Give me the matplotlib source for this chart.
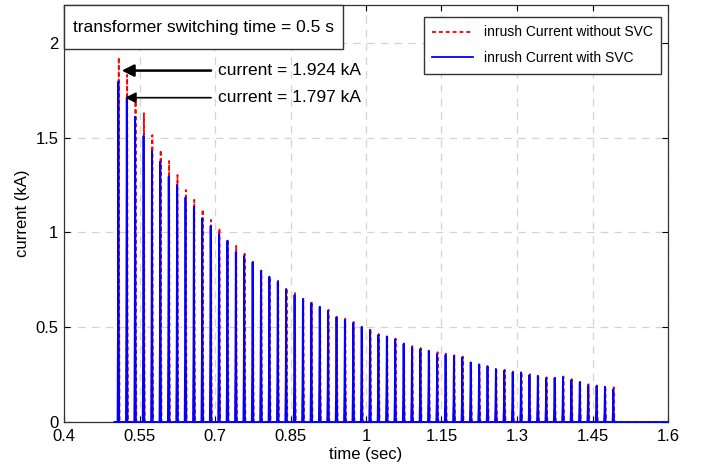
import numpy as np
import matplotlib.pyplot as plt
from matplotlib.patches import Rectangle

plt.rcParams['font.family'] = ['Liberation Sans', 'DejaVu Sans']

# peak current of each inrush cycle (kA), one pulse per 60 Hz cycle after switching
peaks_no_svc = [1.924, 1.831, 1.711, 1.629, 1.514, 1.435, 1.377, 1.303, 1.224, 1.172,
                1.122, 1.066, 1.022, 0.964, 0.929, 0.887, 0.845, 0.799, 0.767, 0.749,
                0.707, 0.680, 0.655, 0.635, 0.610, 0.592, 0.559, 0.545, 0.528, 0.502,
                0.490, 0.464, 0.456, 0.440, 0.415, 0.401, 0.390, 0.380, 0.368, 0.360,
                0.352, 0.345, 0.320, 0.307, 0.298, 0.285, 0.275, 0.266, 0.264, 0.252,
                0.247, 0.236, 0.234, 0.240, 0.226, 0.212, 0.199, 0.193, 0.189, 0.183]
peaks_svc = [1.797, 1.708, 1.611, 1.509, 1.430, 1.374, 1.295, 1.251, 1.184, 1.136,
             1.075, 1.034, 0.992, 0.957, 0.896, 0.876, 0.843, 0.797, 0.767, 0.740,
             0.702, 0.670, 0.649, 0.628, 0.608, 0.586, 0.554, 0.538, 0.523, 0.501,
             0.486, 0.460, 0.452, 0.436, 0.412, 0.394, 0.385, 0.376, 0.358, 0.354,
             0.348, 0.341, 0.315, 0.304, 0.295, 0.280, 0.271, 0.262, 0.262, 0.248,
             0.244, 0.232, 0.232, 0.237, 0.222, 0.209, 0.195, 0.190, 0.186, 0.172]

t_first = 0.508      # time of first peak (s)
period = 1 / 60.0    # supply period (s)
t_end = 1.6

# normalised shape of a single inrush pulse around its peak (offsets in seconds)
pulse_dt = [-0.0016, -0.0008, -0.0003, 0.0, 0.0003, 0.0008, 0.0016]
pulse_shape = [0.0, 0.3, 0.8, 1.0, 0.8, 0.3, 0.0]

xticks = [0.4, 0.55, 0.7, 0.85, 1.0, 1.15, 1.3, 1.45, 1.6]
xticklabels = ['0.4', '0.55', '0.7', '0.85', '1', '1.15', '1.3', '1.45', '1.6']
yticks = [0, 0.5, 1, 1.5, 2]
yticklabels = ['0', '0.5', '1', '1.5', '2']


def build_wave(peaks, lag=0.0):
    t = [0.5]
    i = [0.0]
    for k, p in enumerate(peaks):
        tk = t_first + k * period + lag
        t.extend(tk + d for d in pulse_dt)
        i.extend(p * s for s in pulse_shape)
    t.append(t_end)
    i.append(0.0)
    return np.array(t), np.array(i)


fig = plt.figure(figsize=(7.03, 4.71), dpi=100)
ax = fig.add_axes([64 / 703, 49 / 471, 604 / 703, 417 / 471])

t_red, i_red = build_wave(peaks_no_svc, lag=0.0008)
t_blue, i_blue = build_wave(peaks_svc)

ax.plot(t_red, i_red, color='red', lw=1.3, linestyle=(0, (2.2, 1.6)),
        label='inrush Current without SVC', clip_on=False, zorder=2)
ax.plot(t_blue, i_blue, color='blue', lw=1.3,
        label='inrush Current with SVC', clip_on=False, zorder=3)

ax.set_xlim(0.4, 1.6)
ax.set_ylim(0, 2.2)
ax.set_xticks(xticks)
ax.set_xticklabels(xticklabels)
ax.set_yticks(yticks)
ax.set_yticklabels(yticklabels)
ax.tick_params(direction='in', length=4, width=0.8, labelsize=12,
               top=True, right=True)
ax.tick_params(axis='x', pad=5)
ax.tick_params(axis='y', pad=4)
ax.grid(True, color='#d3d3d3', linestyle=(0, (6, 5)), lw=0.9)
ax.set_axisbelow(True)
for sp in ax.spines.values():
    sp.set_color('#333333')
    sp.set_linewidth(0.9)

ax.set_xlabel('time (sec)', fontsize=12, labelpad=2)
ax.set_ylabel('current (kA)', fontsize=12, labelpad=4)

leg = ax.legend(loc='upper right', bbox_to_anchor=(0.9884, 0.971), borderaxespad=0,
                fontsize=10, handlelength=2.9, fancybox=False, framealpha=1,
                edgecolor='#333333', borderpad=0.6, labelspacing=0.85)
leg.get_frame().set_linewidth(1.0)
leg.set_zorder(10)

# switching time note in the top-left corner
ax.add_patch(Rectangle((0, 0.894), 0.462, 0.106, transform=ax.transAxes,
                       fc='white', ec='#333333', lw=1.0, zorder=9, clip_on=False))
ax.text(0.231, 0.947, 'transformer switching time = 0.5 s', transform=ax.transAxes,
        ha='center', va='center', fontsize=12.5, zorder=10)

# peak markers
ax.annotate('current = 1.924 kA', xy=(0.5147, 1.854), xytext=(0.706, 1.854),
            fontsize=12.5, va='center', ha='left',
            arrowprops=dict(arrowstyle='-|>', color='black', lw=1.8,
                            mutation_scale=18, shrinkA=3, shrinkB=0))
ax.annotate('current = 1.797 kA', xy=(0.5215, 1.711), xytext=(0.706, 1.711),
            fontsize=12.5, va='center', ha='left',
            arrowprops=dict(arrowstyle='-|>', color='black', lw=1.2,
                            mutation_scale=16, shrinkA=3, shrinkB=0))

fig.savefig('out.png', dpi=100)
